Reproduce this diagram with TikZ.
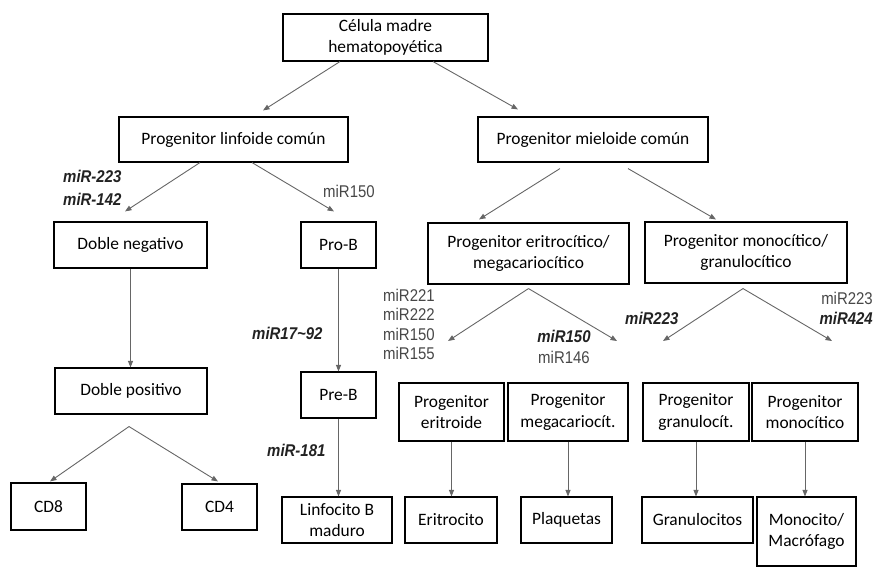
\documentclass[tikz,border=0pt]{standalone}
\usepackage{fontspec}
\setmainfont{Carlito}
\newfontfamily\mirfont[FakeStretch=0.88]{Liberation Sans}
\usetikzlibrary{arrows.meta}
\definecolor{arrgray}{HTML}{666666}
\definecolor{mirgray}{HTML}{474747}
\definecolor{mirdark}{HTML}{222222}
\tikzset{
  cellbox/.style={draw=black, line width=1.1pt, inner sep=0pt, align=center,
    font=\fontsize{17.4}{21.5}\selectfont},
  arr/.style={draw=arrgray, line width=0.9pt, -{Triangle[length=6.5pt,width=5pt]}},
  mirreg/.style={text=mirgray, inner sep=0pt, font=\mirfont\fontsize{17}{19.3}\selectfont},
  mirbi/.style={text=mirdark, inner sep=0pt, font=\mirfont\bfseries\itshape\fontsize{17}{19.3}\selectfont},
}
\begin{document}
\begin{tikzpicture}[x=1pt,y=-1pt]
\useasboundingbox (0,0) rectangle (877,568);
% boxes
\node[cellbox, minimum width=205pt, minimum height=47pt] (cel) at (385.5,37.5) {Célula madre\\hematopoyética};
\node[cellbox, minimum width=229pt, minimum height=45pt] (lin) at (233.5,139.5) {Progenitor linfoide común};
\node[cellbox, minimum width=230pt, minimum height=45pt] (mie) at (593,139.5) {Progenitor mieloide común};
\node[cellbox, minimum width=153pt, minimum height=46pt] (dn) at (130.5,245) {Doble negativo};
\node[cellbox, minimum width=75pt, minimum height=46pt] (prob) at (338.5,245) {Pro-B};
\node[cellbox, minimum width=201pt, minimum height=61pt] (em) at (528.5,253.5) {Progenitor eritrocítico/\\megacariocítico};
\node[cellbox, minimum width=202pt, minimum height=61pt] (mg) at (746,252.5) {Progenitor monocítico/\\granulocítico};
\node[cellbox, minimum width=152pt, minimum height=46pt] (dp) at (131,391) {Doble positivo};
\node[cellbox, minimum width=75pt, minimum height=46pt] (preb) at (338.5,395) {Pre-B};
\node[cellbox, minimum width=75pt, minimum height=47pt] (cd8) at (48.5,506.5) {CD8};
\node[cellbox, minimum width=75pt, minimum height=46pt] (cd4) at (219.5,507) {CD4};
\node[cellbox, minimum width=110pt, minimum height=46pt] (lbm) at (337,520) {Linfocito B\\maduro};
\node[cellbox, minimum width=105pt, minimum height=58pt] (pe) at (451.5,412) {Progenitor\\eritroide};
\node[cellbox, minimum width=120pt, minimum height=58pt] (pmeg) at (568,412) {Progenitor\\megacariocít.};
\node[cellbox, minimum width=106pt, minimum height=58pt] (pgr) at (696,412) {Progenitor\\granulocít.};
\node[cellbox, minimum width=106pt, minimum height=58pt] (pmo) at (805,412) {Progenitor\\monocítico};
\node[cellbox, minimum width=92pt, minimum height=46pt] (eri) at (451,520) {Eritrocito};
\node[cellbox, minimum width=91pt, minimum height=46pt] (plq) at (566.5,520) {Plaquetas};
\node[cellbox, minimum width=111pt, minimum height=46pt] (gra) at (697.5,520) {Granulocitos};
\node[cellbox, minimum width=99pt, minimum height=69pt] (mmo) at (806.5,531.5) {Monocito/\\Macrófago};
% connectors
\draw[arr] ([xshift=-45.5pt]cel.south) -- ([xshift=29.5pt,yshift=6pt]lin.north);
\draw[arr] ([xshift=47.5pt]cel.south) -- ([xshift=-75pt,yshift=7pt]mie.north);
\draw[arr] ([xshift=-33.5pt]lin.south) -- ([xshift=-5.5pt,yshift=10pt]dn.north);
\draw[arr] ([xshift=18.5pt]lin.south) -- ([xshift=-4.5pt,yshift=10pt]prob.north);
\draw[arr] (dn.south) -- (dn.south |- dp.north);
\draw[arr] (prob.south) -- (preb.north);
\draw[arr] (preb.south) -- (preb.south |- lbm.north);
\coordinate (dpx) at ([xshift=-2pt,yshift=-12pt]dp.south);
\draw[arr] (dpx) -- ([xshift=1.5pt,yshift=1pt]cd8.north);
\draw[arr] (dpx) -- ([xshift=-1.5pt,yshift=2pt]cd4.north);
\draw[arr] ([xshift=-33pt,yshift=-6pt]mie.south) -- ([xshift=-49.5pt,yshift=3pt]em.north);
\draw[arr] ([xshift=35pt,yshift=-6pt]mie.south) -- ([xshift=-30pt,yshift=2pt]mg.north);
\coordinate (emx) at ([yshift=-4pt]em.south);
\coordinate (emL) at (448,341);
\coordinate (emR) at (617,341);
\draw[arr] (emx) -- (emL);
\draw[arr] (emx) -- (emR);
\coordinate (mgx) at ([xshift=-3pt,yshift=-5pt]mg.south);
\coordinate (mgL) at (663,341);
\coordinate (mgR) at (832,341);
\draw[arr] (mgx) -- (mgL);
\draw[arr] (mgx) -- (mgR);
\draw[arr] (pe.south) -- (pe.south |- eri.north);
\draw[arr] (pmeg.south) -- (pmeg.south |- plq.north);
\draw[arr] (pgr.south) -- (pgr.south |- gra.north);
\draw[arr] (pmo.south) -- (pmo.south |- mmo.north);
% labels
\node[mirbi, anchor=west] (l1) at (63,176) {miR-223};
\node[mirbi, anchor=west] (l2) at (63,199) {miR-142};
\node[mirreg, anchor=west] (l3) at (323,191) {miR150};
\node[mirbi, anchor=west] (l4) at (252,333) {miR17\textasciitilde92};
\node[mirbi, anchor=west] (l5) at (267,450) {miR-181};
\node[mirreg, anchor=north west, align=left] (l6) at (383,289) {miR221\\miR222\\miR150\\miR155};
\node[mirbi] (l7) at (564,336) {miR150};
\node[mirreg] (l8) at (564,357) {miR146};
\node[mirbi, anchor=west] (l9) at (625,318) {miR223};
\node[mirreg, anchor=east] (l10) at (873,298) {miR223};
\node[mirbi, anchor=east] (l11) at (873,318) {miR424};
\end{tikzpicture}
\end{document}
